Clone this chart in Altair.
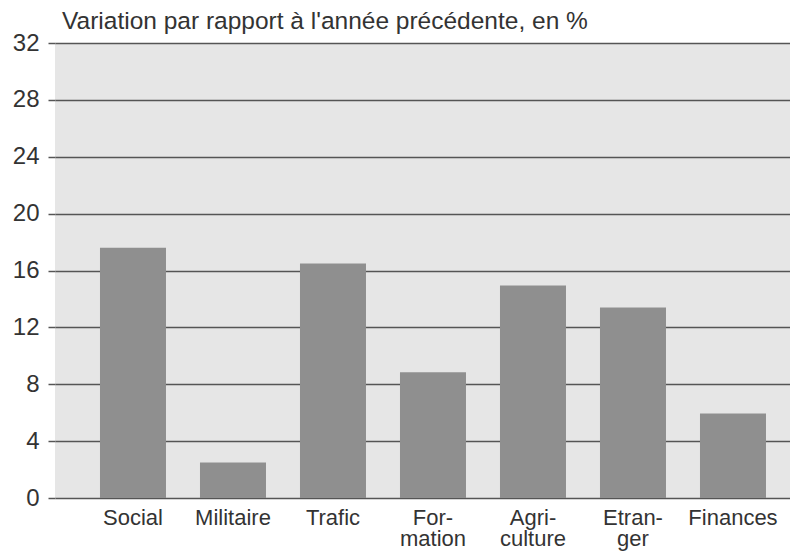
import altair as alt
import pandas as pd

categories = ["Social", "Militaire", "Trafic", "For-\nmation", "Agri-\nculture", "Etran-\nger", "Finances"]
values = [17.6, 2.5, 16.5, 8.85, 14.95, 13.4, 5.95]
y_ticks = [0, 4, 8, 12, 16, 20, 24, 28, 32]
title_text = "Variation par rapport à l'année précédente, en %"

df = pd.DataFrame({"cat": categories, "val": values})
FONT = "Liberation Sans"

chart = (
    alt.Chart(df)
    .mark_bar(color="#8f8f8f")
    .encode(
        x=alt.X(
            "cat:N",
            sort=categories,
            scale=alt.Scale(paddingInner=0.34, paddingOuter=0.345, align=0.652),
            axis=alt.Axis(
                title=None,
                labelAngle=0,
                domain=False,
                ticks=False,
                labelExpr="split(datum.label, '\\n')",
                labelFont=FONT,
                labelFontSize=22,
                labelColor="#333333",
                labelPadding=9,
                labelLineHeight=21.5,
                labelBaseline="top",
            ),
        ),
        y=alt.Y(
            "val:Q",
            scale=alt.Scale(domain=[0, 32], nice=False),
            axis=alt.Axis(
                title=None,
                values=y_ticks,
                domain=False,
                grid=True,
                gridColor="#555555",
                gridWidth=1.5,
                gridOpacity=1,
                ticks=True,
                tickSize=7,
                tickColor="#555555",
                tickWidth=1.5,
                labelFont=FONT,
                labelFontSize=24,
                labelColor="#333333",
                labelPadding=9,
            ),
        ),
    )
    .properties(
        width=735,
        height=455,
        autosize=alt.AutoSizeParams(type="none"),
        padding={"left": 47, "top": 35, "right": 0, "bottom": 62},
        background="white",
        title=alt.TitleParams(
            text=title_text,
            anchor="start",
            frame="group",
            dx=7,
            offset=-3,
            font=FONT,
            fontSize=24.5,
            fontWeight="normal",
            color="#333333",
        ),
    )
    .configure_view(fill="#e6e6e6", stroke=None)
)

chart.save("out.html", embed_options={"renderer": "svg", "actions": False})
